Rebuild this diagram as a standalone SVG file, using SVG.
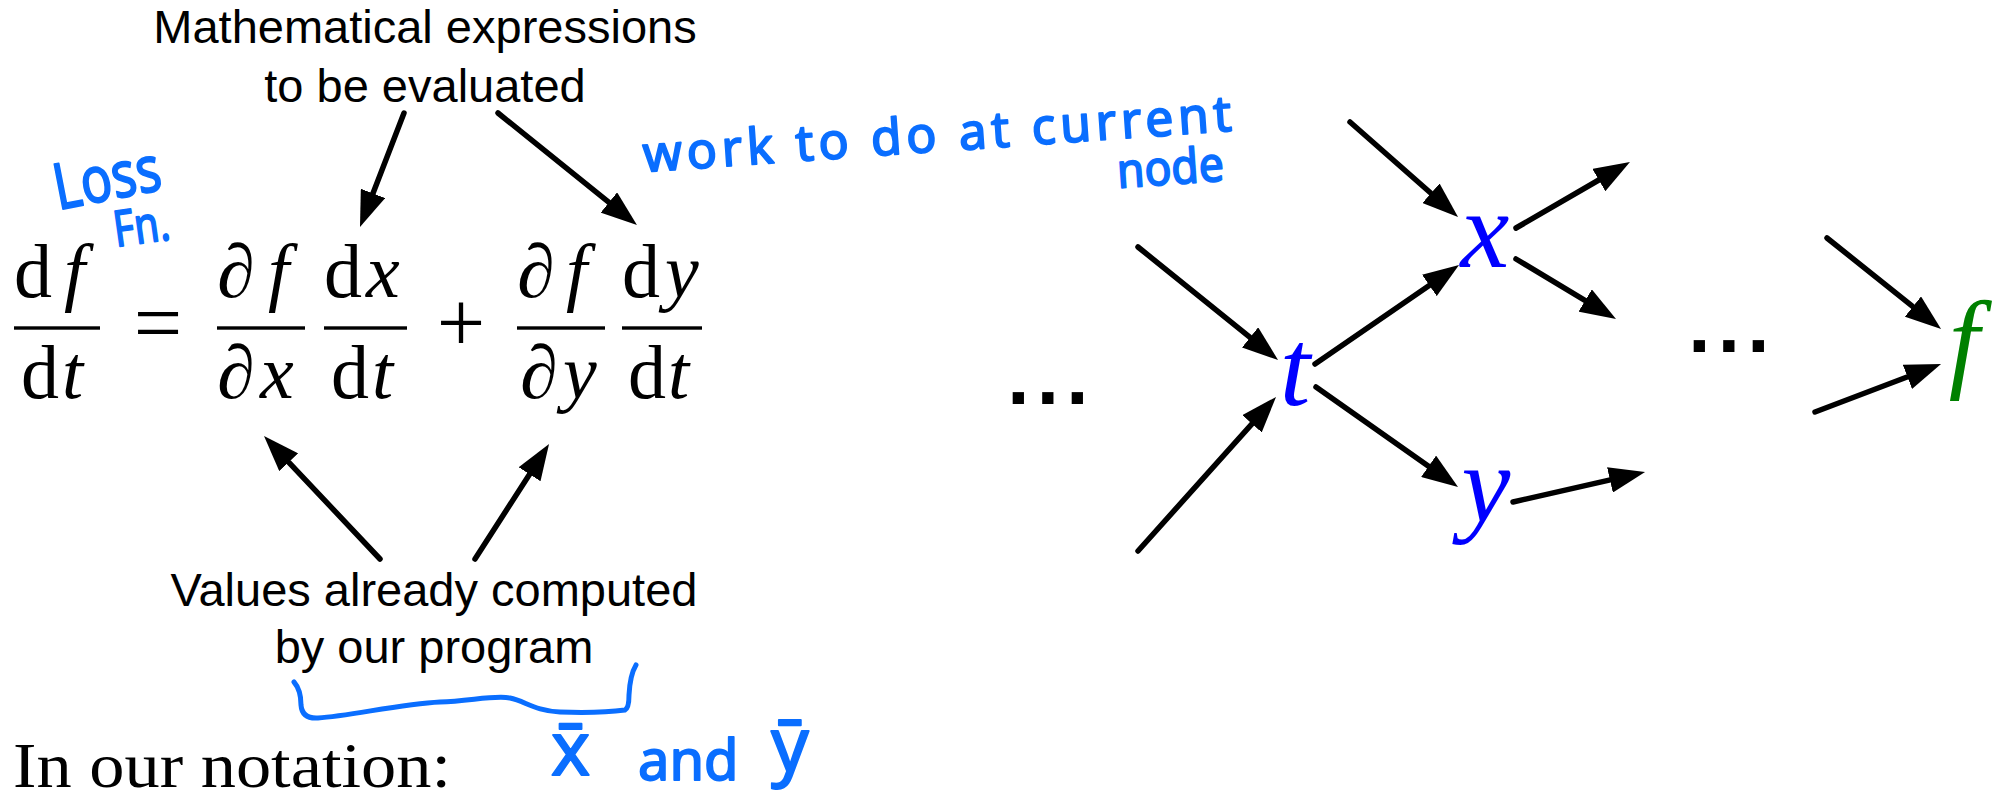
<svg xmlns="http://www.w3.org/2000/svg" width="2007" height="797" viewBox="0 0 2007 797">
<style>
.lbl{font-family:"Liberation Sans",Arial,sans-serif;font-size:47px;fill:#000;text-anchor:middle}
.m{font-family:"Liberation Serif","Times New Roman",serif;font-size:76px;fill:#000}
.mi{font-style:italic}
.op{font-family:"Liberation Serif","Times New Roman",serif;font-size:86px;fill:#000;text-anchor:middle}
.node{font-family:"Liberation Serif","Times New Roman",serif;font-style:italic;font-size:110px;text-anchor:middle}
.blue{fill:#0000ff}
.green{fill:#008000}
.dots{font-family:"Liberation Sans",Arial,sans-serif;font-weight:bold;font-size:80px;letter-spacing:7.2px;fill:#000}
.hw{font-family:"Noto Sans","DejaVu Sans",sans-serif;fill:#0a6eff;stroke:#0a6eff;stroke-width:1.8;stroke-linejoin:round}
.hwline{fill:none;stroke:#0a6eff;stroke-width:5;stroke-linecap:round;stroke-linejoin:round}
.conn{fill:none;stroke:#000;stroke-width:5.5;stroke-linecap:round;marker-end:url(#ah)}
.fbar{fill:#000}
.serif{font-family:"Liberation Serif","Times New Roman",serif;font-size:63px;fill:#000}
</style>
<defs>
<marker id="ah" viewBox="0 0 36 26" markerWidth="36" markerHeight="26" refX="6" refY="13" orient="auto" markerUnits="userSpaceOnUse">
<path d="M0,0 L36,13 L0,26 z" fill="#000"/>
</marker>
</defs>
<rect width="2007" height="797" fill="#fff"/>

<g id="label-expressions">
<text class="lbl" x="425" y="43">Mathematical expressions</text>
<text class="lbl" x="425" y="102">to be evaluated</text>
</g>

<g id="label-values">
<text class="lbl" x="434" y="606">Values already computed</text>
<text class="lbl" x="434" y="663">by our program</text>
</g>

<g id="equation">
<text class="m" x="14" y="297">d</text><text class="m mi" x="64" y="297">f</text>
<rect class="fbar" x="14" y="326.3" width="86" height="3.4"/>
<text class="m" x="21" y="398">d</text><text class="m mi" x="62" y="398">t</text>
<text class="op" x="158" y="352">=</text>
<text class="m" x="217" y="297">∂</text><text class="m mi" x="268" y="297">f</text>
<rect class="fbar" x="217" y="326.3" width="88" height="3.4"/>
<text class="m" x="217" y="398">∂</text><text class="m mi" x="260" y="398">x</text>
<text class="m" x="324" y="297">d</text><text class="m mi" x="366" y="297">x</text>
<rect class="fbar" x="324" y="326.3" width="83" height="3.4"/>
<text class="m" x="331" y="398">d</text><text class="m mi" x="372" y="398">t</text>
<text class="op" x="461" y="352">+</text>
<text class="m" x="517" y="297">∂</text><text class="m mi" x="566" y="297">f</text>
<rect class="fbar" x="517" y="326.3" width="88" height="3.4"/>
<text class="m" x="520" y="398">∂</text><text class="m mi" x="563" y="398">y</text>
<text class="m" x="622" y="297">d</text><text class="m mi" x="665" y="297">y</text>
<rect class="fbar" x="622" y="326.3" width="80" height="3.4"/>
<text class="m" x="628" y="398">d</text><text class="m mi" x="668" y="398">t</text>
</g>

<g id="notation">
<text class="serif" x="13" y="787" textLength="438" lengthAdjust="spacingAndGlyphs">In our notation:</text>
</g>

<g id="node-t"><text class="node blue" x="1295" y="405">t</text></g>
<g id="node-x"><text class="node blue" x="1485" y="267">x</text></g>
<g id="node-y"><text class="node blue" x="1486" y="522">y</text></g>
<g id="node-f"><text class="node green" x="1964" y="378">f</text></g>
<g id="dots-left"><text class="dots" x="1007.3" y="404">...</text></g>
<g id="dots-right"><text class="dots" x="1688.3" y="352">...</text></g>

<g id="connectors">
<line class="conn" x1="404" y1="113" x2="370.8" y2="199"/>
<line class="conn" x1="498" y1="113" x2="613.6" y2="206.2"/>
<line class="conn" x1="380" y1="559" x2="284.6" y2="457.8"/>
<line class="conn" x1="475" y1="559" x2="532.8" y2="469.2"/>
<line class="conn" x1="1138" y1="247" x2="1254.7" y2="341.2"/>
<line class="conn" x1="1138" y1="551" x2="1256" y2="419.3"/>
<line class="conn" x1="1315" y1="364" x2="1434.3" y2="282"/>
<line class="conn" x1="1316" y1="387" x2="1433.5" y2="469.7"/>
<line class="conn" x1="1350" y1="122" x2="1435.5" y2="197.2"/>
<line class="conn" x1="1516" y1="228" x2="1604" y2="177"/>
<line class="conn" x1="1516" y1="259" x2="1590.3" y2="303.6"/>
<line class="conn" x1="1513" y1="502" x2="1615.8" y2="478.6"/>
<line class="conn" x1="1827" y1="238" x2="1917.6" y2="310.3"/>
<line class="conn" x1="1815" y1="412" x2="1913" y2="374.7"/>
</g>

<g id="annotations">
<text class="hw" x="58" y="210" font-size="64" transform="rotate(-11 58 210)" textLength="108" lengthAdjust="spacingAndGlyphs">Loss</text>
<text class="hw" x="116" y="247" font-size="50" transform="rotate(-8 116 247)" textLength="56" lengthAdjust="spacingAndGlyphs">Fn.</text>
<text class="hw" x="644" y="172" font-size="50" transform="rotate(-4 644 172)" textLength="590" lengthAdjust="spacing">work to do at current</text>
<text class="hw" x="1118" y="188" font-size="48" transform="rotate(-4 1118 188)" textLength="107" lengthAdjust="spacingAndGlyphs">node</text>
<path class="hwline" d="M294,682 Q301,690 301,705 Q302,719 318,718 C350,716 400,704 440,702 C470,701 495,695 510,698 C525,701 535,711 560,712 C590,713 610,712 625,710 Q629,708 629,695 Q630,675 636,665"/>
<text class="hw" x="551" y="775" font-size="74">x&#x304;</text>
<text class="hw" x="638" y="780" font-size="56">and</text>
<text class="hw" x="771" y="771" font-size="74">y&#x304;</text>
</g>
</svg>
